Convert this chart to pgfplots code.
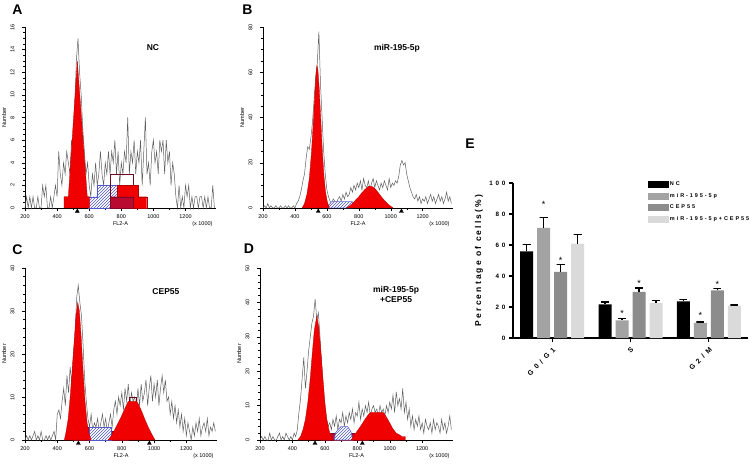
\documentclass[border=0pt]{standalone}
\usepackage{pgfplots}
\pgfplotsset{compat=1.18}
\usetikzlibrary{patterns}
\usepackage{fontspec}
\setmainfont{Liberation Sans}
\newfontfamily\lsA[LetterSpace=25]{Liberation Sans}
\newfontfamily\lsB[LetterSpace=45]{Liberation Sans}
\newfontfamily\lsC[LetterSpace=35]{Liberation Sans}
\newfontfamily\lsD[LetterSpace=55]{Liberation Sans}

\definecolor{trace}{RGB}{95,95,95}
\definecolor{pkred}{RGB}{240,0,0}
\definecolor{dkred}{RGB}{185,10,50}
\definecolor{hatch}{RGB}{80,90,200}
\definecolor{gA}{RGB}{163,163,163}
\definecolor{gB}{RGB}{140,140,140}
\definecolor{gC}{RGB}{218,218,218}

\tikzset{
 ttl/.style={font=\bfseries\fontsize{8.5}{10}\selectfont, align=center},
 plab/.style={font=\bfseries\fontsize{14}{14}\selectfont},
 xk/.style={anchor=east, yshift=-16pt, font=\fontsize{5.5}{6}\selectfont},
}

\pgfplotsset{
 histo/.style={scale only axis, anchor=south west, clip=false, enlargelimits=false,
  axis x line*=bottom, axis y line*=left,
  axis line style={black, line width=0.5pt},
  xmin=200, xmax=1390, ymin=0,
  xtick={200,400,...,1200}, minor x tick num=1,
  tick align=outside, major tick length=3pt, minor tick length=1.8pt,
  tick style={black, line width=0.4pt},
  ticklabel style={font=\fontsize{5.5}{6}\selectfont},
  /pgf/number format/assume math mode=true,
  /pgf/number format/1000 sep={},
  yticklabel style={rotate=90, anchor=south},
  yticklabel shift=4pt,
  xlabel={FL2-A}, ylabel={Number},
  every axis x label/.style={at={(rel axis cs:0.5,0)}, anchor=center, yshift=-16pt, font=\fontsize{5.5}{6}\selectfont},
  every axis y label/.style={at={(rel axis cs:0,0.5)}, xshift=-21pt, rotate=90, anchor=center, font=\fontsize{5.6}{6}\selectfont},
 },
 trace/.style={draw=trace, line width=0.5pt, mark=none},
 g1/.style={fill=pkred, draw=red!70!black, line width=0.3pt, mark=none},
 spha/.style={preaction={fill=white}, pattern=north east lines, pattern color=hatch, draw=hatch, line width=0.3pt, mark=none},
 deb/.style={fill=dkred, draw=dkred!70!black, line width=0.3pt, mark=none},
 obox/.style={draw=dkred!60!black, line width=0.35pt, mark=none},
 tri/.style={only marks, mark=triangle*, mark size=2.3pt, black},
 bars/.style={ybar, bar width=13pt, draw=none, forget plot},
 errs/.style={black, line width=1.4pt, mark=none, forget plot, unbounded coords=jump},
 stars/.style={only marks, mark=text, text mark={*}, text mark as node=true,
    text mark style={font=\fontsize{9}{9}\selectfont, anchor=center}, forget plot},
}

\begin{document}
\begin{tikzpicture}
\useasboundingbox (0,0) rectangle (753pt,464pt);

%% ---------------- A : NC
\begin{axis}[histo, at={(25pt,256pt)}, width=191pt, height=181pt,
  ymax=16, ytick={0,2,...,16}, minor y tick num=3]
\addplot[trace] coordinates {(200,0)(210,1)(220,0)(230,1)(240,0)(250,1)(260,0)(270,0)(280,1)(290,0)(300,0)(310,2)(320,1)(330,2)(340,0)(350,0)(360,1)(370,0)(380,1)(390,2)(400,1)(410,5)(420,3)(430,2)(440,4)(450,3)(460,5)(470,4)(480,3)(490,6)(500,5)(510,9)(520,13)(530,15)(540,12)(550,10)(560,7)(570,5)(580,3)(590,4)(600,2)(610,1)(620,3)(630,2)(640,4)(650,2)(660,3)(670,5)(680,3)(690,2)(700,4)(710,3)(720,5)(730,3)(740,5)(750,4)(760,6)(770,3)(780,5)(790,2)(800,4)(810,3)(820,5)(830,4)(840,8)(850,3)(860,5)(870,4)(880,6)(890,3)(900,5)(910,4)(920,6)(930,2)(940,5)(950,8)(960,3)(970,4)(980,2)(990,5)(1000,6)(1010,4)(1020,5)(1030,3)(1040,6)(1050,5)(1060,6)(1070,3)(1080,6)(1090,4)(1100,5)(1110,2)(1120,4)(1130,3)(1140,1)(1150,0)(1160,2)(1170,0)(1180,1)(1190,0)(1200,2)(1210,1)(1220,2)(1230,0)(1240,1)(1250,0)(1260,1)(1270,1)(1280,0)(1290,1)(1300,1)(1310,0)(1320,1)(1330,0)(1340,1)(1350,0)(1360,0)(1370,2)(1380,0)};
\addplot[spha] coordinates {(596,0)(596,1)(648,1)(648,2)(773,2)(773,0)} \closedcycle;
\addplot[obox] coordinates {(730,0)(730,3)(875,3)(875,0)};
\addplot[g1] coordinates {(775,0)(775,2)(906,2)(906,1)(958,1)(958,0)} \closedcycle;
\addplot[deb] coordinates {(730,0)(730,1)(875,1)(875,0)} \closedcycle;
\addplot[g1] coordinates {(443,0)(443,1)(470,1)(526,13)(588,1)(601,1)(601,0)} \closedcycle;
\addplot[tri] coordinates {(526,-0.29)};
\node[ttl] at (rel axis cs:0.67,0.884) {NC};
\node[plab] at (rel axis cs:-0.039,1.097) {A};
\node[xk] at (rel axis cs:1,0) {(x 1000)};
\end{axis}

%% ---------------- B : miR-195-5p
\begin{axis}[histo, at={(263pt,256pt)}, width=190pt, height=181pt,
  ymax=80, ytick={0,20,...,80}, minor y tick num=3]
\addplot[trace] coordinates {(200,0)(210,1)(220,0)(230,2)(240,0)(250,1)(260,0)(270,0)(280,1)(290,0)(300,0)(310,1)(320,0)(330,0)(340,1)(350,0)(360,1)(370,0)(380,0)(390,1)(400,0)(410,2)(420,3)(430,5)(440,8)(450,12)(460,15)(470,22)(480,27)(490,26)(500,31)(510,38)(520,48)(530,58)(540,64)(550,78)(560,55)(570,40)(580,25)(590,15)(600,8)(610,5)(620,3)(630,2)(640,4)(650,3)(660,2)(670,4)(680,5)(690,3)(700,6)(710,4)(720,7)(730,5)(740,6)(750,9)(760,7)(770,10)(780,8)(790,11)(800,9)(810,12)(820,8)(830,13)(840,10)(850,9)(860,12)(870,8)(880,11)(890,13)(900,9)(910,12)(920,10)(930,8)(940,11)(950,9)(960,12)(970,10)(980,8)(990,13)(1000,9)(1010,11)(1020,10)(1030,12)(1040,11)(1050,14)(1060,19)(1070,21)(1080,19)(1090,20)(1100,15)(1110,12)(1120,9)(1130,7)(1140,5)(1150,4)(1160,6)(1170,3)(1180,5)(1190,2)(1200,4)(1210,3)(1220,5)(1230,2)(1240,4)(1250,6)(1260,3)(1270,5)(1280,2)(1290,4)(1300,6)(1310,3)(1320,5)(1330,2)(1340,4)(1350,7)(1360,3)(1370,5)(1380,2)};
\addplot[obox] coordinates {(535,0)(535,1.3)(806,1.3)(806,0)};
\addplot[spha] coordinates {(606,0)(615,1.5)(630,2.8)(760,2.8)(765,0)} \closedcycle;
\addplot[g1] coordinates {(723,0)(740,0.8)(760,2)(780,3.5)(800,5)(820,6.8)(840,8.3)(860,9.5)(870,9.7)(885,9.4)(905,8.3)(925,6.5)(945,4.6)(965,3)(985,1.6)(1000,0.8)(1014,0)} \closedcycle;
\addplot[g1] coordinates {(445,0)(460,2)(475,6)(490,13)(503,24)(515,38)(525,51)(533,60)(538,63)(544,61)(552,53)(562,39)(572,25)(582,14)(592,7)(602,3)(615,0)} \closedcycle;
\addplot[tri] coordinates {(546,-1.46)(1067,-1.46)};
\node[ttl] at (rel axis cs:0.705,0.884) {miR-195-5p};
\node[plab] at (rel axis cs:-0.082,1.097) {B};
\node[xk] at (rel axis cs:1,0) {(x 1000)};
\end{axis}

%% ---------------- C : CEP55
\begin{axis}[histo, at={(25pt,24pt)}, width=192pt, height=172pt,
  ymax=40, ytick={0,10,...,40}, minor y tick num=4]
\addplot[trace] coordinates {(200,0)(210,1)(220,0)(230,1)(240,0)(250,1)(260,2)(270,0)(280,1)(290,0)(300,2)(310,0)(320,0)(330,1)(340,0)(350,1)(360,0)(370,1)(380,2)(390,0)(400,6)(410,7)(420,5)(430,9)(440,12)(450,8)(460,15)(470,11)(480,17)(490,13)(500,20)(510,24)(520,33)(530,36)(540,32)(550,29)(560,22)(570,14)(580,9)(590,5)(600,3)(610,6)(620,2)(630,4)(640,3)(650,5)(660,2)(670,4)(680,6)(690,3)(700,5)(710,2)(720,4)(730,6)(740,3)(750,7)(760,9)(770,6)(780,10)(790,8)(800,11)(810,7)(820,12)(830,9)(840,13)(850,8)(860,11)(870,9)(880,10)(890,7)(900,12)(910,8)(920,13)(930,9)(940,11)(950,14)(960,8)(970,12)(980,15)(990,9)(1000,13)(1010,10)(1020,14)(1030,8)(1040,12)(1050,15)(1060,11)(1070,14)(1080,9)(1090,10)(1100,6)(1110,9)(1120,5)(1130,8)(1140,4)(1150,7)(1160,3)(1170,6)(1180,2)(1190,5)(1200,1)(1210,4)(1220,2)(1230,0)(1240,3)(1250,1)(1260,4)(1270,2)(1280,5)(1290,1)(1300,3)(1310,4)(1320,2)(1330,5)(1340,1)(1350,3)(1360,2)(1370,4)(1380,2)};
\addplot[deb] coordinates {(496,0)(496,1)(520,1)(520,2)(548,2)(548,3)(725,3)(725,2)(780,2)(780,1)(839,1)(839,0)} \closedcycle;
\addplot[spha] coordinates {(600,0)(600,3)(735,3)(735,0)} \closedcycle;
\addplot[obox] coordinates {(845,0)(845,10)(890,10)(890,0)};
\addplot[g1] coordinates {(715,0)(735,1)(755,2.3)(775,3.8)(795,5.3)(815,7)(830,8.2)(840,9)(892,9)(905,8.2)(925,6.5)(945,4.6)(965,2.9)(985,1.4)(1006,0)} \closedcycle;
\addplot[g1] coordinates {(444,0)(455,2)(468,5)(480,10)(492,16)(505,23)(516,29)(527,32)(537,30)(548,24)(560,16)(572,9)(585,4)(597,1.5)(610,0)} \closedcycle;
\addplot[tri] coordinates {(531,-0.77)(971,-0.77)};
\node[ttl] at (rel axis cs:0.734,0.862) {CEP55};
\node[plab] at (rel axis cs:-0.039,1.105) {C};
\node[xk] at (rel axis cs:1,0) {(x 1000)};
\end{axis}

%% ---------------- D : miR-195-5p + CEP55
\begin{axis}[histo, at={(260pt,24pt)}, width=193pt, height=172pt,
  ymax=50, ytick={0,10,...,50}, minor y tick num=4]
\addplot[trace] coordinates {(200,0)(210,1)(220,0)(230,1)(240,0)(250,0)(260,2)(270,0)(280,1)(290,0)(300,0)(310,1)(320,2)(330,0)(340,1)(350,0)(360,2)(370,1)(380,0)(390,1)(400,0)(410,2)(420,1)(430,3)(440,8)(450,12)(460,18)(470,24)(480,15)(490,20)(500,26)(510,30)(520,34)(530,36)(540,41)(550,35)(560,37)(570,30)(580,22)(590,14)(600,9)(610,6)(620,4)(630,5)(640,3)(650,6)(660,4)(670,7)(680,3)(690,6)(700,5)(710,8)(720,4)(730,7)(740,5)(750,8)(760,6)(770,9)(780,5)(790,8)(800,7)(810,11)(820,6)(830,9)(840,7)(850,10)(860,8)(870,11)(880,7)(890,9)(900,10)(910,8)(920,9)(930,7)(940,10)(950,8)(960,9)(970,7)(980,10)(990,8)(1000,11)(1010,9)(1020,13)(1030,8)(1040,14)(1050,10)(1060,12)(1070,9)(1080,15)(1090,8)(1100,11)(1110,6)(1120,9)(1130,4)(1140,7)(1150,3)(1160,6)(1170,4)(1180,7)(1190,3)(1200,5)(1210,2)(1220,6)(1230,4)(1240,3)(1250,5)(1260,2)(1270,6)(1280,3)(1290,5)(1300,4)(1310,2)(1320,6)(1330,3)(1340,5)(1350,2)(1360,4)(1370,7)(1380,3)};
\addplot[deb] coordinates {(575,0)(575,1)(600,1)(600,2)(780,2)(780,1)(867,1)(867,0)} \closedcycle;
\addplot[spha] coordinates {(658,0)(665,2)(680,3)(700,3.9)(740,3.9)(760,2.5)(773,0)} \closedcycle;
\addplot[g1] coordinates {(762,0)(775,1)(790,2)(810,3.3)(830,4.7)(850,6.2)(870,7.5)(880,8)(960,8)(975,7)(990,5.8)(1005,4.5)(1020,3.2)(1040,2)(1060,1.5)(1075,1)(1096,1)(1096,0)} \closedcycle;
\addplot[g1] coordinates {(433,0)(450,1)(465,3)(480,6)(495,11)(510,18)(522,25)(535,32)(550,36)(562,33)(575,26)(588,18)(600,11)(612,6)(625,3)(637,1)(648,0)} \closedcycle;
\addplot[tri] coordinates {(539,-0.96)(831,-0.96)};
\node[ttl] at (rel axis cs:0.705,0.849) {miR-195-5p\\+CEP55};
\node[plab] at (rel axis cs:-0.057,1.110) {D};
\node[xk] at (rel axis cs:1,0) {(x 1000)};
\end{axis}

%% ---------------- E : bar chart
\begin{axis}[at={(513pt,126pt)}, anchor=south west, scale only axis,
  width=235pt, height=155pt, clip=false, enlargelimits=false,
  xmin=-0.5, xmax=2.5, ymin=0, ymax=100,
  axis x line*=bottom, axis y line*=left,
  axis line style={black, line width=1.3pt},
  xtick={0,1,2}, xticklabels={G0/G1,S,G2/M},
  ytick={0,20,...,100},
  tick align=outside, major tick length=4pt,
  tick style={black, line width=1.3pt},
  /pgf/number format/assume math mode=true,
  xticklabel style={rotate=45, anchor=north east, font=\lsD\bfseries\fontsize{7}{7}\selectfont},
  yticklabel style={font=\lsB\bfseries\fontsize{6.3}{7}\selectfont},
  ylabel={Percentage of cells(\%)},
  every axis y label/.style={at={(rel axis cs:0,0.5)}, xshift=-34pt, rotate=90, anchor=center, font=\lsA\bfseries\fontsize{8.5}{9}\selectfont},
  legend style={at={(rel axis cs:0.574,1.02)}, anchor=north west, draw=none, fill=none,
    inner sep=0pt, row sep=3.2pt, nodes={inner sep=1.5pt},
    font=\lsC\bfseries\fontsize{5.5}{6}\selectfont},
  legend cell align=left,
]
\addlegendimage{legend image code/.code={\fill[black] (0pt,-3pt) rectangle (20pt,3pt);}}
\addlegendimage{legend image code/.code={\fill[gA] (0pt,-3pt) rectangle (20pt,3pt);}}
\addlegendimage{legend image code/.code={\fill[gB] (0pt,-3pt) rectangle (20pt,3pt);}}
\addlegendimage{legend image code/.code={\fill[gC] (0pt,-3pt) rectangle (20pt,3pt);}}
\addplot[bars, bar shift=-25.5pt, fill=black] coordinates {(0,55.9) (1,21.7) (2,23.7)};
\addplot[bars, bar shift=-8.5pt, fill=gA] coordinates {(0,71.0) (1,11.4) (2,9.7)};
\addplot[bars, bar shift=8.5pt, fill=gB] coordinates {(0,42.6) (1,29.7) (2,30.8)};
\addplot[bars, bar shift=25.5pt, fill=gC] coordinates {(0,60.9) (1,22.6) (2,20.9)};
% error bars (mean -> mean+SD, with cap)
\addplot[errs] coordinates {(-0.3255,55.9)(-0.3255,60.4)(-0.3765,60.4)(-0.2745,60.4) (0,nan)
  (0.6745,21.7)(0.6745,23.2)(0.6235,23.2)(0.7255,23.2) (0,nan)
  (1.6745,23.7)(1.6745,24.7)(1.6235,24.7)(1.7255,24.7)};
\addplot[errs] coordinates {(-0.1085,71.0)(-0.1085,77.6)(-0.1595,77.6)(-0.0575,77.6) (0,nan)
  (0.8915,11.4)(0.8915,12.5)(0.8405,12.5)(0.9425,12.5) (0,nan)
  (1.8915,9.7)(1.8915,10.3)(1.8405,10.3)(1.9425,10.3)};
\addplot[errs] coordinates {(0.1085,42.6)(0.1085,47.3)(0.0575,47.3)(0.1595,47.3) (0,nan)
  (1.1085,29.7)(1.1085,32.3)(1.0575,32.3)(1.1595,32.3) (0,nan)
  (2.1085,30.8)(2.1085,32.0)(2.0575,32.0)(2.1595,32.0)};
\addplot[errs] coordinates {(0.3255,60.9)(0.3255,66.7)(0.2745,66.7)(0.3765,66.7) (0,nan)
  (1.3255,22.6)(1.3255,24.1)(1.2745,24.1)(1.3765,24.1) (0,nan)
  (2.3255,20.9)(2.3255,21.3)(2.2745,21.3)(2.3765,21.3)};
\addplot[stars] coordinates {(-0.1085,86.3)(0.8915,15.8)(1.8915,14.3)(0.1085,49.8)(1.1085,35.5)(2.1085,34.3)};
\legend{NC,miR-195-5p,CEP55,miR-195-5p+CEP55}
\node[plab] at (rel axis cs:-0.183,1.255) {E};
\end{axis}
\end{tikzpicture}
\end{document}
